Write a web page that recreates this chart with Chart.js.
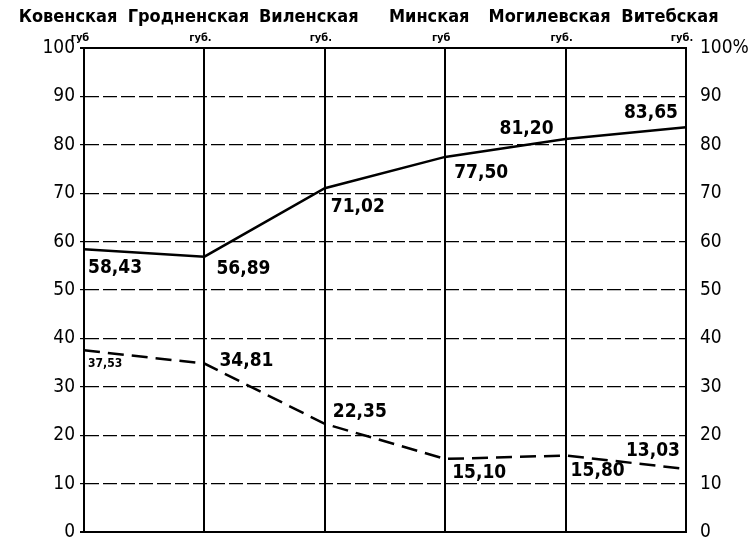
<!DOCTYPE html>
<html>
<head>
<meta charset="utf-8">
<script src="https://cdn.jsdelivr.net/npm/chart.js@4"></script>
<style>
    body { margin: 0; background: #fff; }
    canvas { display: block; }
</style>
</head>
<body>
<canvas id="chart" width="755" height="550"></canvas>
<script>
// Data
const provinces = ['Ковенская', 'Гродненская', 'Виленская', 'Минская', 'Могилевская', 'Витебская'];
const gubLabels = ['губ', 'губ.', 'губ.', 'губ', 'губ.', 'губ.'];
const solidValues = [58.43, 56.89, 71.02, 77.50, 81.20, 83.65];
const dashedValues = [37.53, 34.81, 22.35, 15.10, 15.80, 13.03];
const yTicks = [0, 10, 20, 30, 40, 50, 60, 70, 80, 90, 100];

// Where each value label sits relative to its point: [dx, dy, align]
const solidLabelPos = [[4, 19, 'left'], [12, 12, 'left'], [6, 19, 'left'], [9, 16, 'left'], [-12, -10, 'right'], [-8, -14, 'right']];
const dashedLabelPos = [[4, 14, 'left'], [15, -2, 'left'], [8, -12, 'left'], [7, 14, 'left'], [5, 16, 'left'], [-6, -18, 'right']];

const FONT = '"DejaVu Sans Condensed", "Liberation Sans Narrow", "DejaVu Sans", sans-serif';
const fmt = v => v.toFixed(2).replace('.', ',');

// Value labels next to the points
const valueLabels = {
    id: 'valueLabels',
    afterDatasetsDraw(chart) {
        const ctx = chart.ctx;
        const sets = [solidLabelPos, dashedLabelPos];
        chart.data.datasets.forEach((ds, di) => {
            const meta = chart.getDatasetMeta(di);
            meta.data.forEach((pt, i) => {
                const [dx, dy, align] = sets[di][i];
                ctx.save();
                const small = di === 1 && i === 0;
                ctx.font = (small ? 'bold 12px ' : 'bold 19px ') + FONT;
                ctx.fillStyle = '#000';
                ctx.textAlign = align;
                ctx.textBaseline = 'middle';
                ctx.fillText(fmt(ds.data[i]), pt.x + dx, pt.y + dy);
                ctx.restore();
            });
        });
    }
};

new Chart(document.getElementById('chart'), {
    type: 'line',
    data: {
        labels: provinces,
        datasets: [{
            data: solidValues,
            borderColor: '#000',
            borderWidth: 2.5,
            pointRadius: 0,
            tension: 0
        }, {
            data: dashedValues,
            borderColor: '#000',
            borderWidth: 2.5,
            borderDash: [16, 8],
            pointRadius: 0,
            tension: 0
        }]
    },
    options: {
        responsive: false,
        animation: false,
        layout: { padding: { top: 0, bottom: 18, left: 0, right: 0 } },
        plugins: { legend: { display: false }, tooltip: { enabled: false } },
        scales: {
            x: {
                type: 'category',
                position: 'top',
                offset: false,
                weight: 0,
                labels: gubLabels,
                grid: { color: '#000', lineWidth: 2, drawTicks: false },
                border: { display: true, color: '#000', width: 2 },
                ticks: {
                    color: '#000',
                    font: { family: FONT, size: 11, weight: 'bold' },
                    padding: 3,
                    labelOffset: -4,
                    autoSkip: false,
                    maxRotation: 0
                },
                afterFit: s => { s.height = 19; }
            },
            xn: {
                type: 'category',
                position: 'top',
                offset: false,
                weight: 1,
                labels: provinces,
                grid: { display: false, drawTicks: false },
                border: { display: false },
                ticks: {
                    color: '#000',
                    font: { family: FONT, size: 18, weight: 'bold' },
                    padding: 1,
                    labelOffset: -16,
                    autoSkip: false,
                    maxRotation: 0
                },
                afterFit: s => { s.height = 29; }
            },
            xb: {
                type: 'category',
                position: 'bottom',
                offset: false,
                labels: provinces,
                grid: { display: false, drawTicks: false },
                border: { display: true, color: '#000', width: 2 },
                ticks: { display: false },
                afterFit: s => { s.height = 0; }
            },
            y: {
                position: 'left',
                min: 0,
                max: 100,
                afterBuildTicks: s => { s.ticks = yTicks.map(v => ({ value: v })); },
                grid: {
                    color: '#000',
                    lineWidth: c => (c.tick && (c.tick.value === 0 || c.tick.value === 100)) ? 2 : 1.2,
                    tickLength: 4
                },
                border: {
                    display: true, color: '#000', width: 2,
                    dash: c => (c.tick && (c.tick.value === 0 || c.tick.value === 100)) ? [] : [14, 4]
                },
                ticks: {
                    color: '#000',
                    font: { family: FONT, size: 19 },
                    padding: 5
                },
                afterFit: s => { s.width = 84; }
            },
            y2: {
                position: 'right',
                min: 0,
                max: 100,
                afterBuildTicks: s => { s.ticks = yTicks.map(v => ({ value: v })); },
                grid: { display: false, drawOnChartArea: false },
                border: { display: true, color: '#000', width: 2 },
                ticks: {
                    color: '#000',
                    font: { family: FONT, size: 19 },
                    padding: 6,
                    callback: v => v === 100 ? '100%' : v
                },
                afterFit: s => { s.width = 69; }
            }
        }
    },
    plugins: [valueLabels]
});
</script>
</body>
</html>
